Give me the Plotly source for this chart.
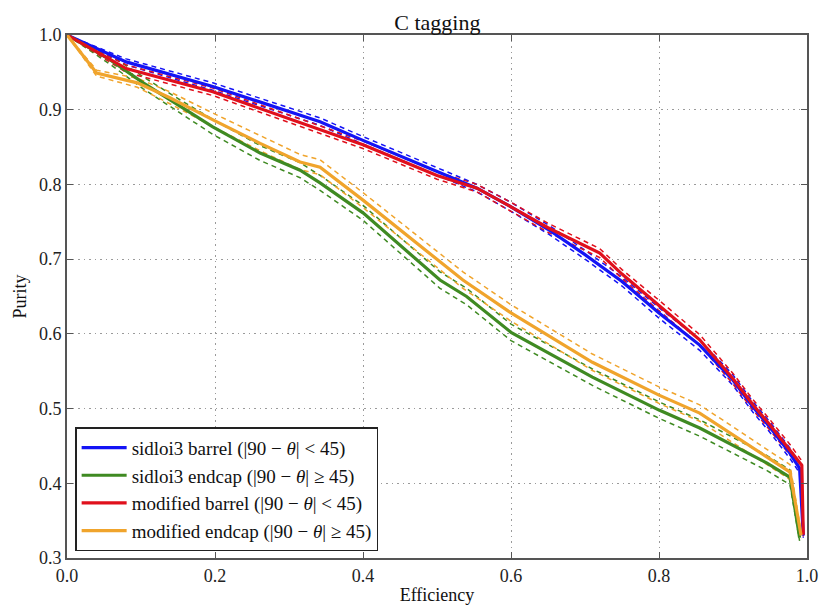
import plotly.graph_objects as go

# ---- data ----
blue_x = [0.0, 0.08, 0.197, 0.342, 0.4, 0.5, 0.554, 0.6, 0.65, 0.7, 0.75, 0.8, 0.855, 0.9, 0.927, 0.95, 0.977, 0.99, 0.995]
blue_y = [1.0, 0.964, 0.931, 0.884, 0.859, 0.818, 0.795, 0.770, 0.740, 0.706, 0.670, 0.628, 0.585, 0.538, 0.502, 0.475, 0.440, 0.420, 0.330]
blue_err = [0.0, 0.004, 0.005, 0.005, 0.005, 0.005, 0.005, 0.006, 0.006, 0.006, 0.006, 0.007, 0.007, 0.007, 0.007, 0.007, 0.007, 0.006, 0.003]

green_x = [0.0, 0.058, 0.103, 0.153, 0.197, 0.261, 0.315, 0.342, 0.4, 0.504, 0.54, 0.6, 0.71, 0.8, 0.855, 0.946, 0.977, 0.99]
green_y = [1.0, 0.967, 0.936, 0.904, 0.877, 0.842, 0.819, 0.802, 0.762, 0.672, 0.650, 0.602, 0.542, 0.498, 0.474, 0.427, 0.408, 0.327]
green_err = [0.0, 0.006, 0.008, 0.009, 0.010, 0.010, 0.010, 0.010, 0.010, 0.011, 0.011, 0.011, 0.011, 0.011, 0.011, 0.010, 0.010, 0.004]

red_x = [0.0, 0.058, 0.08, 0.197, 0.342, 0.4, 0.5, 0.554, 0.6, 0.65, 0.72, 0.75, 0.8, 0.855, 0.9, 0.927, 0.95, 0.977, 0.993, 0.995]
red_y = [1.0, 0.967, 0.955, 0.924, 0.873, 0.853, 0.812, 0.795, 0.770, 0.742, 0.708, 0.680, 0.638, 0.592, 0.540, 0.505, 0.478, 0.445, 0.424, 0.331]
red_err = [0.0, 0.004, 0.005, 0.005, 0.005, 0.005, 0.005, 0.005, 0.006, 0.006, 0.006, 0.006, 0.007, 0.007, 0.007, 0.007, 0.007, 0.007, 0.006, 0.003]

orange_x = [0.0, 0.04, 0.095, 0.139, 0.198, 0.261, 0.315, 0.342, 0.4, 0.535, 0.6, 0.71, 0.8, 0.855, 0.946, 0.977, 0.992]
orange_y = [1.0, 0.949, 0.936, 0.916, 0.886, 0.855, 0.830, 0.823, 0.779, 0.672, 0.628, 0.562, 0.518, 0.494, 0.435, 0.415, 0.330]
orange_err = [0.0, 0.004, 0.006, 0.008, 0.009, 0.010, 0.010, 0.010, 0.010, 0.011, 0.011, 0.011, 0.011, 0.011, 0.010, 0.010, 0.004]

x_ticks = [0.0, 0.2, 0.4, 0.6, 0.8, 1.0]
y_ticks = [0.3, 0.4, 0.5, 0.6, 0.7, 0.8, 0.9, 1.0]

series = [
    ("sidloi3 barrel (|90 − <i>θ</i>| &lt; 45)", blue_x, blue_y, blue_err, "#1414f5"),
    ("sidloi3 endcap (|90 − <i>θ</i>| ≥ 45)", green_x, green_y, green_err, "#3f8a22"),
    ("modified barrel (|90 − <i>θ</i>| &lt; 45)", red_x, red_y, red_err, "#e0101c"),
    ("modified endcap (|90 − <i>θ</i>| ≥ 45)", orange_x, orange_y, orange_err, "#f0a42c"),
]

FONT = "Liberation Serif"
fig = go.Figure()

# dashed uncertainty bands first
for name, xs, ys, es, col in series:
    up = [y + e for y, e in zip(ys, es)]
    lo = [y - e for y, e in zip(ys, es)]
    for band in (up, lo):
        fig.add_trace(go.Scatter(x=xs, y=band, mode="lines", showlegend=False,
                                 line=dict(color=col, width=1.5, dash="5px,4px"),
                                 hoverinfo="skip"))

for name, xs, ys, es, col in series:
    fig.add_trace(go.Scatter(x=xs, y=ys, mode="lines", name=name,
                             line=dict(color=col, width=3.2)))

axis_common = dict(showline=True, linecolor="#555", linewidth=2, mirror="ticks",
                   ticks="inside", ticklen=6, tickcolor="#555", automargin=False,
                   showgrid=True, gridcolor="#9a9a9a", griddash="1.5px,4px", gridwidth=1.2,
                   zeroline=False, tickfont=dict(family=FONT, size=18, color="#222"))

fig.update_layout(
    width=819, height=607,
    margin=dict(l=67, r=12, t=35, b=49),
    paper_bgcolor="white", plot_bgcolor="white",
    title=dict(text="C tagging", x=0.534, xanchor="center", y=0.963, yanchor="middle",
               font=dict(family=FONT, size=22, color="#111")),
    xaxis=dict(range=[0, 1], tickvals=x_ticks, ticktext=[f"{v:.1f}" for v in x_ticks],
               title=dict(text="Efficiency", standoff=4, font=dict(family=FONT, size=18, color="#111")),
               **axis_common),
    yaxis=dict(range=[0.3, 1.0], tickvals=y_ticks, ticktext=[f"{v:.1f}" for v in y_ticks],
               title=dict(text="Purity", standoff=8, font=dict(family=FONT, size=18, color="#111")),
               **axis_common),
    legend=dict(x=0.011, y=0.013, xanchor="left", yanchor="bottom",
                bgcolor="white", bordercolor="#222", borderwidth=1.5,
                font=dict(family=FONT, size=19, color="#111"),
                tracegroupgap=0, itemwidth=45),
    showlegend=True,
)

fig.write_html("out.html", config={"displayModeBar": False},
               post_script="document.body.style.margin='0';document.body.style.overflow='hidden';")
